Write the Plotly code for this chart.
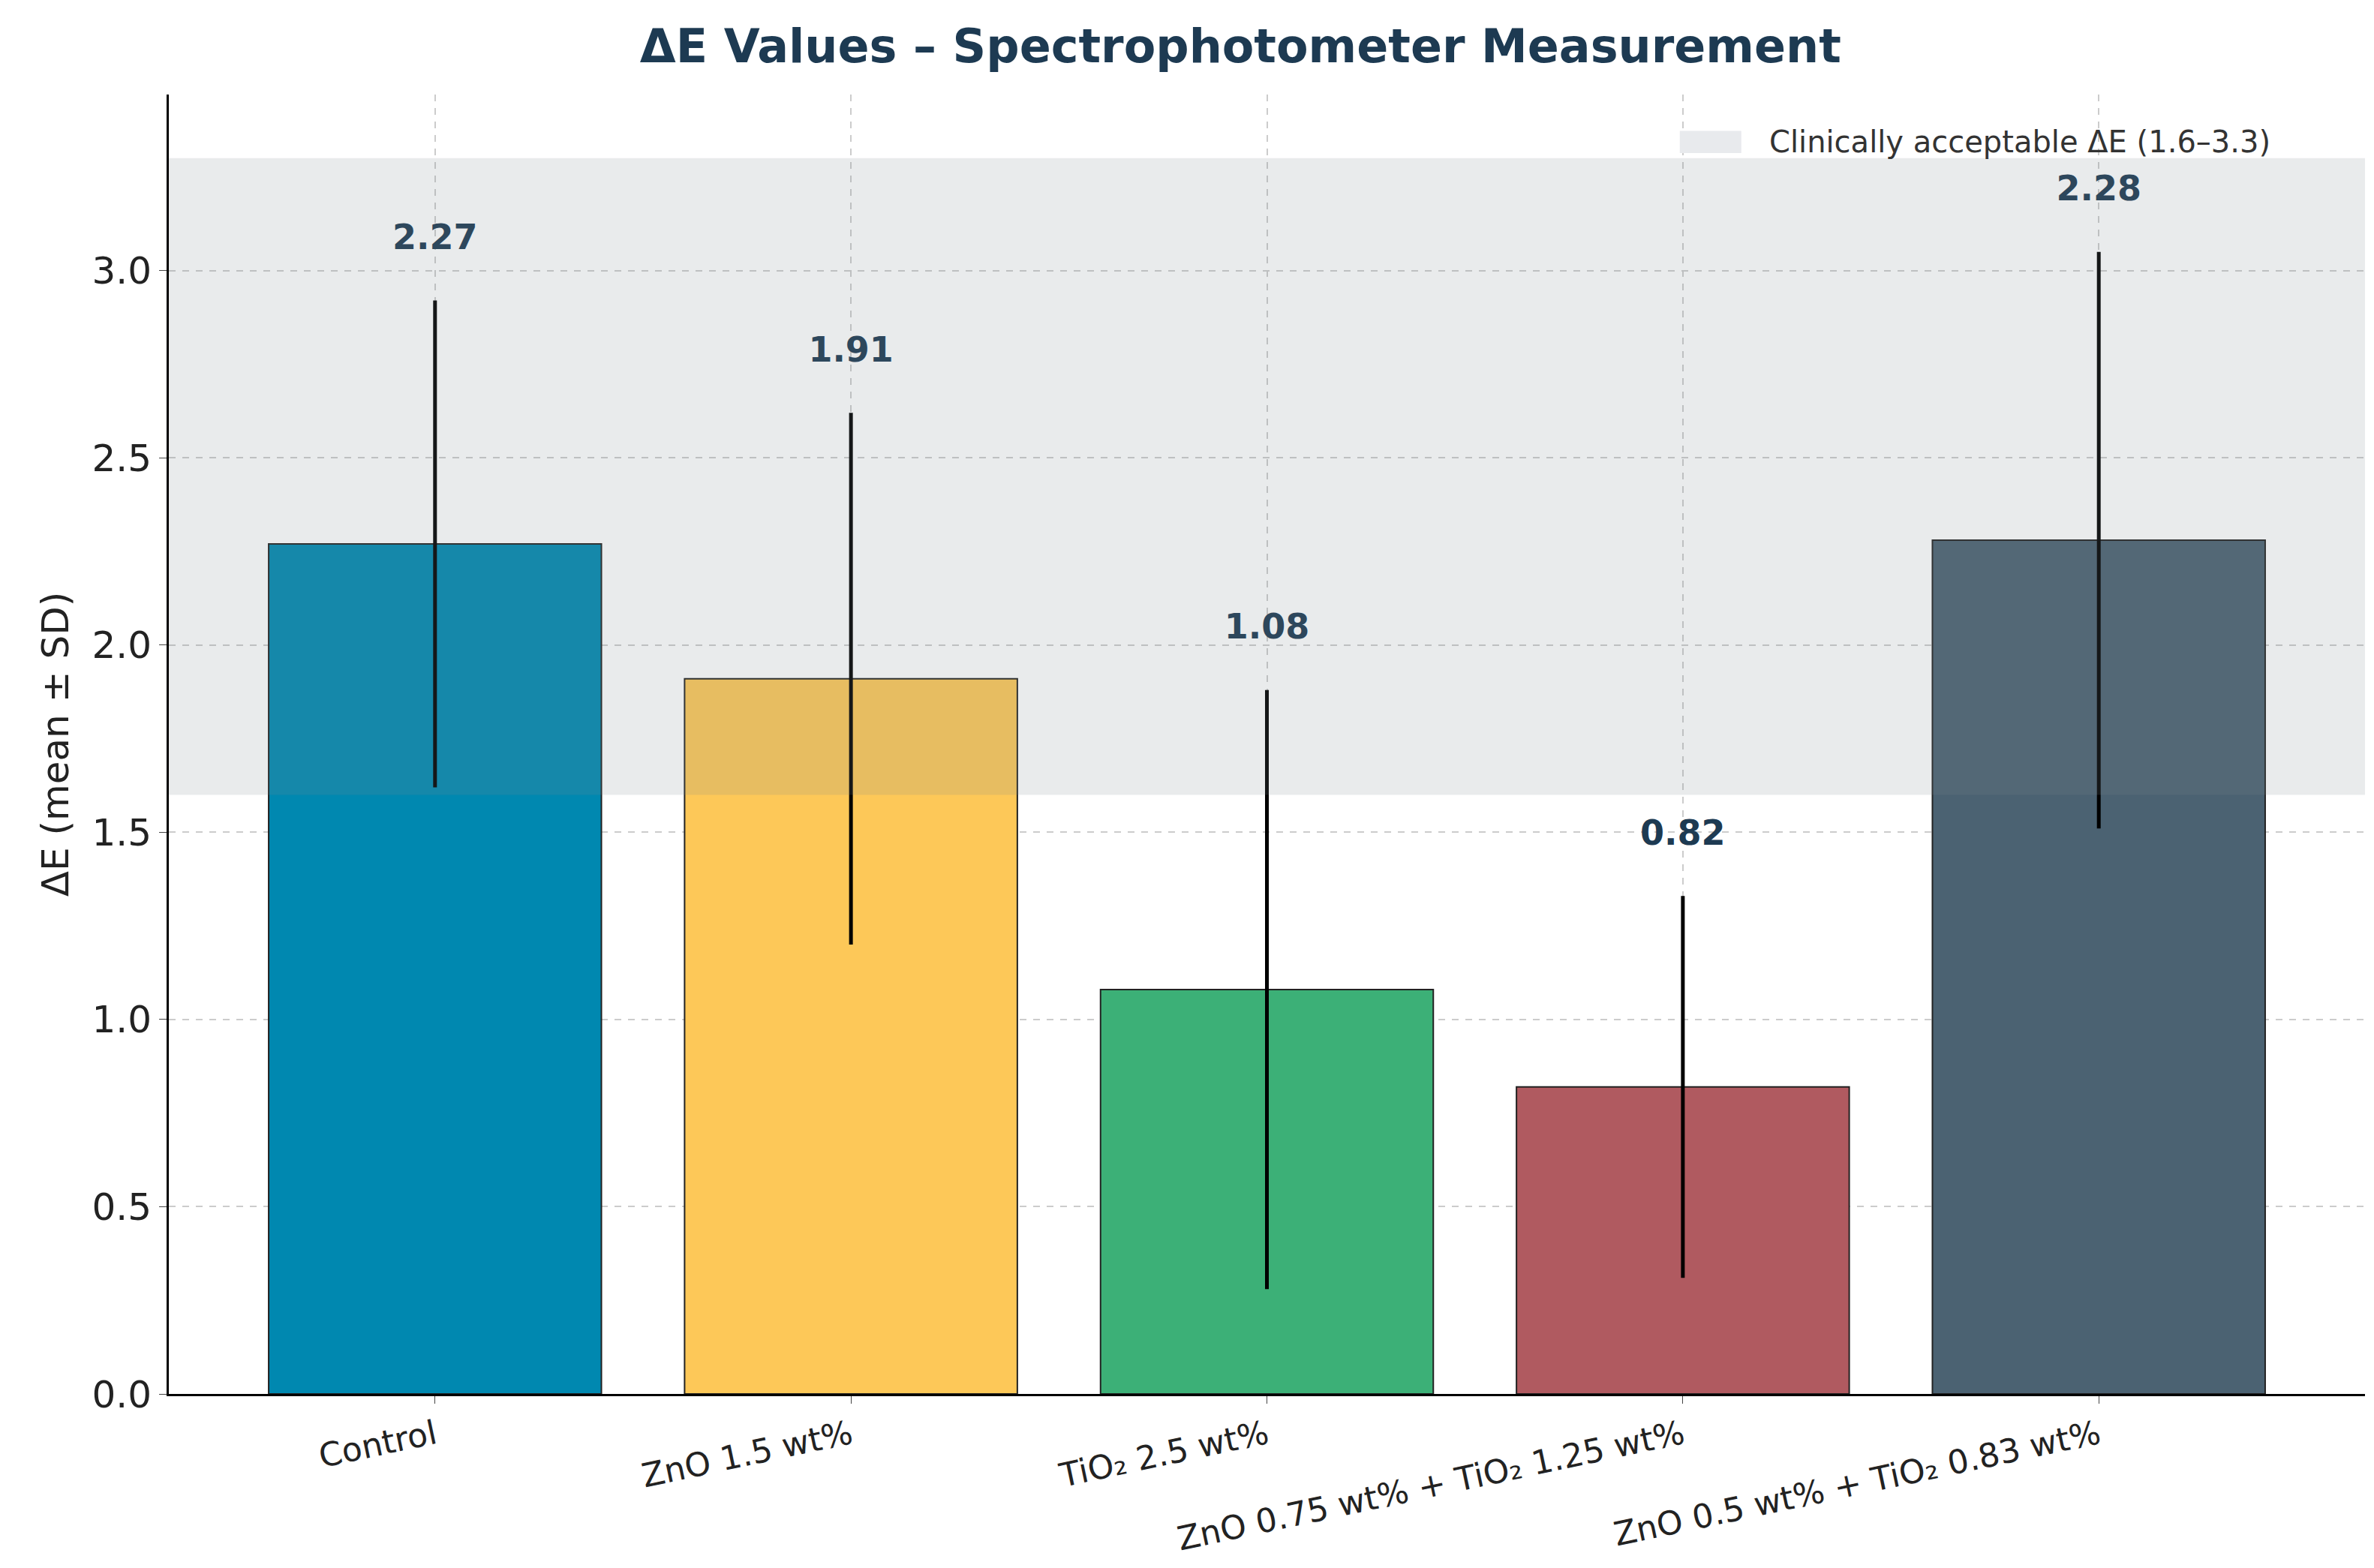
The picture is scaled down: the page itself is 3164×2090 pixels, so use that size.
import plotly.graph_objects as go

groups = ["Control", "ZnO 1.5 wt%", "TiO₂ 2.5 wt%",
          "ZnO 0.75 wt% + TiO₂ 1.25 wt%", "ZnO 0.5 wt% + TiO₂ 0.83 wt%"]
means = [2.27, 1.91, 1.08, 0.82, 2.28]
sds = [0.65, 0.71, 0.80, 0.51, 0.77]
colors = ["#0088b0", "#fdc858", "#3cb077", "#b05a60", "#4b6272"]
band = [1.6, 3.3]

font = "DejaVu Sans"
navy = "#1d3a52"

fig = go.Figure()
fig.add_trace(go.Bar(
    x=list(range(len(groups))), y=means, width=0.8,
    marker=dict(color=colors, line=dict(color="#222", width=2)),
    error_y=dict(type="data", array=sds, color="black", thickness=5, width=0),
    showlegend=False,
))
fig.add_trace(go.Scatter(
    x=list(range(len(groups))), y=[m + s + 0.16 for m, s in zip(means, sds)],
    mode="text", text=[f"<b>{m:.2f}</b>" for m in means],
    textfont=dict(family=font, size=46, color=navy), showlegend=False,
))
fig.add_hrect(y0=band[0], y1=band[1], fillcolor="rgba(125,135,145,0.17)",
              line_width=0, layer="above")
# legend box
fig.add_shape(type="rect", xref="paper", yref="paper", x0=0.688, x1=0.716,
              y0=0.955, y1=0.972, fillcolor="#e8eaed", line_width=0)
fig.add_annotation(xref="paper", yref="paper", x=0.728, y=0.9635,
                   xanchor="left", yanchor="middle", showarrow=False,
                   text=f"Clinically acceptable ΔE ({band[0]}–{band[1]})",
                   font=dict(family=font, size=40, color="#333"))

fig.update_layout(
    width=3164, height=2090,
    plot_bgcolor="white", paper_bgcolor="white",
    margin=dict(l=217, r=20, t=118, b=240),
    title=dict(text="<b>ΔE Values – Spectrophotometer Measurement</b>",
               x=0.52, xanchor="center", y=0.985, yanchor="top",
               font=dict(family=font, size=62, color=navy)),
    font=dict(family=font, color="#222"),
)
fig.update_xaxes(
    range=[-0.64, 4.64], tickvals=list(range(len(groups))), ticktext=groups,
    tickangle=-12, tickfont=dict(size=44), showline=True, linecolor="black",
    linewidth=3, ticks="outside", ticklen=10, showgrid=True,
    gridcolor="#cccccc", griddash="dash", gridwidth=2,
)
fig.update_yaxes(
    range=[0, 3.47], dtick=0.5, tickformat=".1f", tickfont=dict(size=50),
    title=dict(text="ΔE (mean ± SD)", font=dict(size=50)),
    showline=True, linecolor="black", linewidth=3, ticks="outside",
    ticklen=10, showgrid=True, gridcolor="#cccccc", griddash="dash",
    gridwidth=2, zeroline=False,
)

fig.write_html("out.html")
